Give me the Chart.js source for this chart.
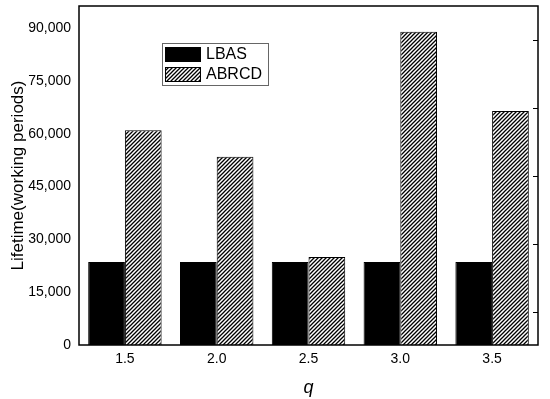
<!DOCTYPE html>
<html>
<head>
<meta charset="utf-8">
<script src="https://cdn.jsdelivr.net/npm/chart.js@4"></script>
<style>
  html, body { margin: 0; padding: 0; background: #fff; }
  #wrap { width: 550px; height: 399px; }
</style>
</head>
<body>
<div id="wrap"><canvas id="myChart" width="550" height="399"></canvas></div>
<script>
const categories = ["1.5", "2.0", "2.5", "3.0", "3.5"];
const lbasValues = [23600, 23600, 23600, 23600, 23600];
const abrcdValues = [61000, 53500, 25000, 89000, 66500];
const yTicks = [0, 15000, 30000, 45000, 60000, 75000, 90000];
// right axis ticks have no labels, only inward marks
const rightTicks = [9400, 28700, 48000, 67300, 86600];

const FONT = "'Liberation Sans', Arial, sans-serif";

function hatchPattern() {
    const c = document.createElement("canvas");
    c.width = 4;
    c.height = 4;
    const p = c.getContext("2d");
    p.fillStyle = "#fff";
    p.fillRect(0, 0, 4, 4);
    p.strokeStyle = "#000";
    p.lineWidth = 1.3;
    p.beginPath();
    p.moveTo(-1, 5); p.lineTo(5, -1);
    p.moveTo(-1, 1); p.lineTo(1, -1);
    p.moveTo(3, 5); p.lineTo(5, 3);
    p.stroke();
    return p.createPattern(c, "repeat");
}

const frame = {
    id: "frame",
    afterDraw(chart) {
        const { ctx, chartArea: a } = chart;
        const y = chart.scales.y;
        ctx.save();
        ctx.strokeStyle = "#000";
        ctx.lineWidth = 1.5;
        ctx.strokeRect(a.left, a.top, a.right - a.left, a.bottom - a.top);
        ctx.lineWidth = 1;
        ctx.beginPath();
        rightTicks.forEach(v => {
            const py = Math.round(y.getPixelForValue(v)) + 0.5;
            ctx.moveTo(a.right - 5, py);
            ctx.lineTo(a.right, py);
        });
        ctx.stroke();

        // legend box inside the plot
        const lx = 162, ly = 43, lw = 106, lh = 42;
        ctx.strokeStyle = "#666";
        ctx.lineWidth = 1;
        ctx.strokeRect(lx + 0.5, ly + 0.5, lw, lh);
        ctx.font = "16px " + FONT;
        ctx.textBaseline = "middle";
        ctx.fillStyle = "#000";
        chart.data.datasets.forEach((ds, i) => {
            const ry = ly + 4 + i * 20;
            ctx.fillStyle = ds.backgroundColor;
            ctx.fillRect(lx + 3, ry, 36, 15);
            ctx.strokeStyle = "#000";
            ctx.strokeRect(lx + 3.5, ry + 0.5, 35, 14);
            ctx.fillStyle = "#000";
            ctx.fillText(ds.label, lx + 44, ry + 8);
        });
        ctx.restore();
    }
};

const ctx = document.getElementById("myChart").getContext("2d");
new Chart(ctx, {
    type: "bar",
    data: {
        labels: categories,
        datasets: [
            {
                label: "LBAS",
                data: lbasValues,
                backgroundColor: "#000",
                borderColor: "#000",
                borderWidth: 1
            },
            {
                label: "ABRCD",
                data: abrcdValues,
                backgroundColor: hatchPattern(),
                borderColor: "#000",
                borderWidth: 1
            }
        ]
    },
    options: {
        responsive: false,
        animation: false,
        layout: { padding: { top: 6, right: 12, left: 0, bottom: 0 } },
        datasets: {
            bar: { categoryPercentage: 0.8, barPercentage: 1.0 }
        },
        plugins: {
            legend: { display: false },
            tooltip: { enabled: false }
        },
        scales: {
            x: {
                grid: { display: false, drawTicks: false },
                border: { display: false },
                ticks: { color: "#000", font: { family: FONT, size: 14 }, padding: 6 },
                title: {
                    display: true,
                    text: "q",
                    color: "#000",
                    font: { family: FONT, size: 18, style: "italic" },
                    padding: { top: 4, bottom: 0 }
                },
                afterFit(s) { s.height = 54; s.paddingLeft = 0; s.paddingRight = 0; }
            },
            y: {
                min: 0,
                max: 96300,
                grid: { display: false, drawTicks: false },
                border: { display: false },
                afterBuildTicks(s) { s.ticks = yTicks.map(v => ({ value: v })); },
                ticks: {
                    color: "#000",
                    font: { family: FONT, size: 14 },
                    padding: 8,
                    callback: v => v.toLocaleString("en-US")
                },
                title: {
                    display: true,
                    text: "Lifetime(working periods)",
                    color: "#000",
                    font: { family: FONT, size: 17 },
                    padding: { top: 8, bottom: 4 }
                },
                afterFit(s) { s.width = 79; s.paddingTop = 0; s.paddingBottom = 0; }
            }
        }
    },
    plugins: [frame]
});
</script>
</body>
</html>
